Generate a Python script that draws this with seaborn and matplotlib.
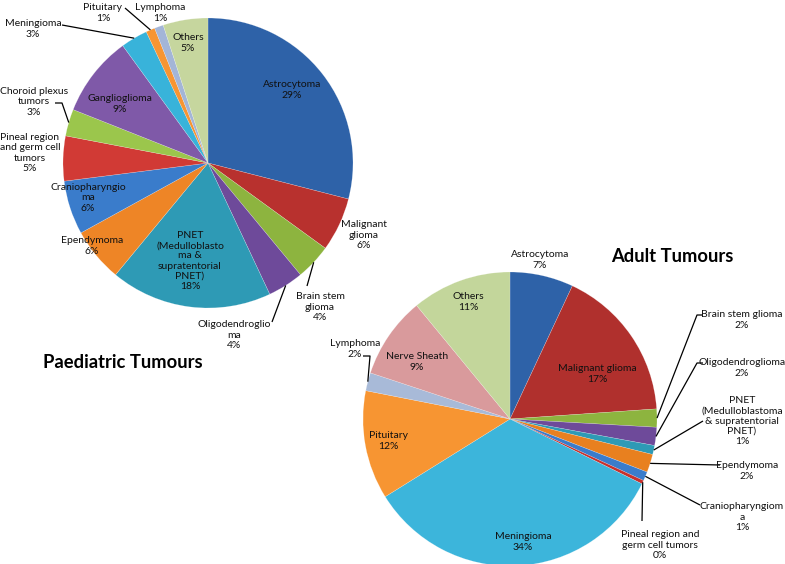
import numpy as np
import matplotlib
matplotlib.use("Agg")
import matplotlib.pyplot as plt
import seaborn as sns

# ---------------- data ----------------
ped_labels = ["Astrocytoma\n29%", "Malignant\nglioma\n6%", "Brain stem\nglioma\n4%",
              "Oligodendroglio\nma\n4%",
              "PNET\n(Medulloblasto\nma &\nsupratentorial\nPNET)\n18%",
              "Ependymoma\n6%", "Craniopharyngio\nma\n6%",
              "Pineal region\nand germ cell\ntumors\n5%", "Choroid plexus\ntumors\n3%",
              "Ganglioglioma\n9%", "Meningioma\n3%", "Pituitary\n1%", "Lymphoma\n1%",
              "Others\n5%"]
ped_values = [29, 6, 4, 4, 18, 6, 6, 5, 3, 9, 3, 1, 1, 5]
ped_colors = ["#2E62A8", "#B8312E", "#8DB43F", "#6E4A9A", "#2E9AB5", "#EE8526",
              "#3A7CCB", "#D13A35", "#9BC64C", "#7F59A8", "#38B3DA", "#F79532",
              "#A3B5D7", "#C6D69E"]

adu_labels = ["Astrocytoma\n7%", "Malignant glioma\n17%", "Brain stem glioma\n2%",
              "Oligodendroglioma\n2%",
              "PNET\n(Medulloblastoma\n& supratentorial\nPNET)\n1%",
              "Ependymoma\n2%", "Craniopharyngiom\na\n1%",
              "Pineal region and\ngerm cell tumors\n0%", "Meningioma\n34%",
              "Pituitary\n12%", "Lymphoma\n2%", "Nerve Sheath\n9%", "Others\n11%"]
adu_values = [7, 17, 2, 2, 1, 2, 1, 0.4, 34, 12, 2, 9, 11]
adu_colors = ["#2E62A8", "#B0302D", "#8DB43F", "#6E4A9A", "#2E9AB5", "#E8801F",
              "#3A7CCB", "#C8302C", "#3CB5DB", "#F79532", "#A8BAD8", "#D99A9C",
              "#C3D69B"]

titles = ["Paediatric Tumours", "Adult Tumours"]

# ---------------- layout (screen pixels, y down) ----------------
W, H = 785, 564
ped_center, ped_r = (208, 163), 145
adu_center, adu_r = (510, 419), 147

ped_text_pos = [(292, 90), (364, 235), (320, 307), (234, 335), (190, 261),
                (92, 246), (88, 198), (30, 153), (34, 102), (120, 104),
                (33, 29), (103, 13), (160, 13), (188, 43)]
ped_leaders = {2: [(307, 286)], 3: [(272, 322)], 8: [(62, 103), (55, 103)],
               10: [(62, 25)], 11: [(125, 8)]}

adu_text_pos = [(540, 260), (597, 374), (742, 320), (742, 368), (742, 421),
                (747, 471), (742, 517), (660, 545), (523, 542), (388, 441),
                (355, 349), (417, 362), (468, 302)]
adu_leaders = {2: [(697, 315), (703, 315)], 3: [(697, 363), (703, 363)],
               4: [(703, 421)], 5: [(720, 465)], 6: [(700, 505)],
               7: [(642, 521)], 10: [(370, 356), (363, 356)]}

title_pos = [(123, 362), (672, 256)]

sns.set_theme(style="white")
plt.rcParams['font.family'] = ['Lato', 'DejaVu Sans']

fig = plt.figure(figsize=(W / 100, H / 100), dpi=100)
ax = fig.add_axes([0, 0, 1, 1])


def draw_pie(values, colors, labels, center, r, text_pos, leaders):
    cx, cy = center
    ax.pie(values, colors=colors, startangle=90, counterclock=False,
           center=(cx, H - cy), radius=r, frame=True,
           wedgeprops=dict(linewidth=0.3, edgecolor=(1, 1, 1, 0.4)))
    total = float(sum(values))
    cum = np.cumsum([0] + list(values))
    for i, lab in enumerate(labels):
        tx, ty = text_pos[i]
        ax.text(tx, H - ty, lab, ha="center", va="center", fontsize=7.5,
                color="#111111", linespacing=1.15)
        if i in leaders:
            frac = (cum[i] + values[i] / 2.0) / total
            ang = np.deg2rad(frac * 360.0)
            sx = cx + r * np.sin(ang)
            sy = cy - r * np.cos(ang)
            pts = [(sx, sy)] + leaders[i]
            ax.plot([p[0] for p in pts], [H - p[1] for p in pts],
                    color="black", lw=0.9, solid_capstyle="butt")


draw_pie(ped_values, ped_colors, ped_labels, ped_center, ped_r, ped_text_pos, ped_leaders)
draw_pie(adu_values, adu_colors, adu_labels, adu_center, adu_r, adu_text_pos, adu_leaders)

for t, (tx, ty) in zip(titles, title_pos):
    ax.text(tx, H - ty, t, ha="center", va="center", fontsize=13.2,
            fontweight="bold", color="black")

ax.set_xlim(0, W)
ax.set_ylim(0, H)
ax.set_aspect("equal")
ax.axis("off")
fig.savefig("out.png", dpi=100, facecolor="white")
